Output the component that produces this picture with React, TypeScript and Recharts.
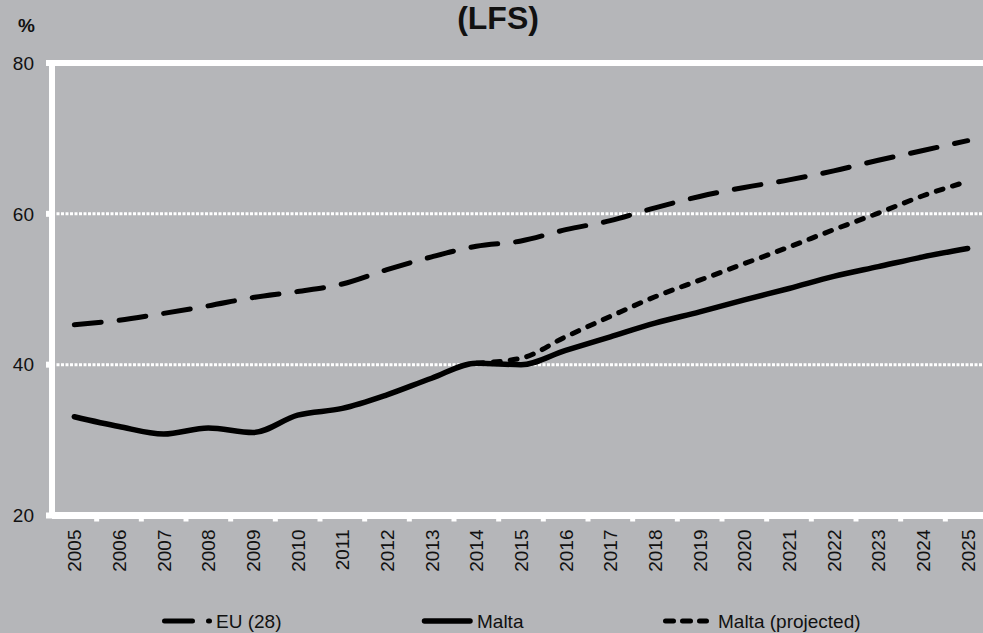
import React from 'react';
import { LineChart, Line, XAxis, YAxis, CartesianGrid, ReferenceLine, Legend } from 'recharts';

const years = ['2005','2006','2007','2008','2009','2010','2011','2012','2013','2014','2015','2016','2017','2018','2019','2020','2021','2022','2023','2024','2025'];
const euValues = [45.3,45.9,46.8,47.8,48.9,49.7,50.7,52.6,54.3,55.7,56.4,57.9,59.1,60.8,62.3,63.5,64.5,65.7,67.1,68.4,69.7];
const maltaValues = [33.1,31.8,30.8,31.6,31.0,33.3,34.2,36.0,38.2,40.2,40.0,41.9,43.7,45.5,47.0,48.6,50.1,51.7,53.0,54.3,55.4];
const maltaProjected: (number | null)[] = [null,null,null,null,null,null,null,null,null,40.2,40.85,43.7,46.4,49.0,51.2,53.4,55.6,57.9,60.1,62.4,64.3];
const yTicks = [20, 40, 60, 80];
const seriesNames = { eu: 'EU (28)', malta: 'Malta', proj: 'Malta (projected)' };
const titleText = '(LFS)';
const unitText = '%';

const data = years.map((y, i) => ({ year: y, eu: euValues[i], malta: maltaValues[i], proj: maltaProjected[i] }));

const BG = '#b5b6b9';
const FONT = '"Liberation Sans", Arial, Helvetica, sans-serif';
const CHART_W = 990;
const CHART_H = 633;
const Y_AXIS_W = 52;
const BAND = (CHART_W - Y_AXIS_W) / years.length;

const XTick = (props: any) => {
  const { x, y, payload } = props;
  const bx = x + BAND / 2;
  return (
    <g>
      <line x1={bx} y1={y} x2={bx} y2={y + 6} stroke="#fff" strokeWidth={5} />
      <text
        x={x}
        y={y + 14}
        transform={`rotate(-90 ${x} ${y + 14})`}
        textAnchor="end"
        dy={7}
        fontSize={19}
        fontFamily={FONT}
        fill="#111"
      >
        {payload.value}
      </text>
    </g>
  );
};

const LegendContent = () => (
  <svg width={CHART_W} height={47} style={{ display: 'block' }}>
    <line x1={164.5} y1={35} x2={209.5} y2={35} stroke="#000" strokeWidth={5} strokeLinecap="round" strokeDasharray="28 16" />
    <text x={216} y={42} fontSize={19} fontFamily={FONT} fill="#111">{seriesNames.eu}</text>
    <line x1={424.5} y1={35} x2={470} y2={35} stroke="#000" strokeWidth={5.5} strokeLinecap="round" />
    <text x={477} y={42} fontSize={19} fontFamily={FONT} fill="#111">{seriesNames.malta}</text>
    <line x1={665.5} y1={35} x2={706.5} y2={35} stroke="#000" strokeWidth={5} strokeLinecap="round" strokeDasharray="8 9" />
    <text x={718} y={42} fontSize={19} fontFamily={FONT} fill="#111">{seriesNames.proj}</text>
  </svg>
);

export default function App() {
  return (
    <div style={{ position: 'fixed', left: 0, top: 0, width: 983, height: 633, overflow: 'hidden', background: BG, fontFamily: FONT }}>
      <LineChart width={CHART_W} height={CHART_H} data={data} margin={{ top: 63, right: 0, left: 0, bottom: 0 }}>
        <CartesianGrid vertical={false} stroke="#fff" strokeWidth={3} strokeDasharray="3 1.5" />
        <ReferenceLine y={80} stroke="#fff" strokeWidth={6} />
        <XAxis
          dataKey="year"
          scale="band"
          height={70.5}
          axisLine={{ stroke: '#fff', strokeWidth: 7 }}
          tickLine={false}
          tickSize={0}
          tickMargin={0}
          interval={0}
          tick={<XTick />}
        />
        <YAxis
          domain={[20, 80]}
          ticks={yTicks}
          width={Y_AXIS_W}
          axisLine={{ stroke: '#fff', strokeWidth: 6 }}
          tickLine={{ stroke: '#fff', strokeWidth: 6 }}
          tickSize={6}
          tickMargin={12}
          tick={{ fontSize: 19, fontFamily: FONT, fill: '#111' }}
        />
        <Legend verticalAlign="bottom" height={47} wrapperStyle={{ left: 0, bottom: 0, width: CHART_W, height: 47 }} content={<LegendContent />} />
        <Line type="monotone" dataKey="eu" name={seriesNames.eu} stroke="#000" strokeWidth={5} strokeLinecap="round" strokeDasharray="27 18" dot={false} isAnimationActive={false} />
        <Line type="monotone" dataKey="malta" name={seriesNames.malta} stroke="#000" strokeWidth={5.5} strokeLinecap="round" dot={false} isAnimationActive={false} />
        <Line type="monotone" dataKey="proj" name={seriesNames.proj} stroke="#000" strokeWidth={5} strokeLinecap="round" strokeDasharray="7 10" dot={false} connectNulls={false} isAnimationActive={false} />
      </LineChart>
      <svg width={983} height={60} style={{ position: 'absolute', left: 0, top: 0, pointerEvents: 'none' }}>
        <text x={498} y={29} textAnchor="middle" fontSize={32} fontWeight="bold" fontFamily={FONT} fill="#111">{titleText}</text>
        <text x={26.5} y={32} textAnchor="middle" fontSize={19} fontWeight="bold" fontFamily={FONT} fill="#111">{unitText}</text>
      </svg>
    </div>
  );
}
